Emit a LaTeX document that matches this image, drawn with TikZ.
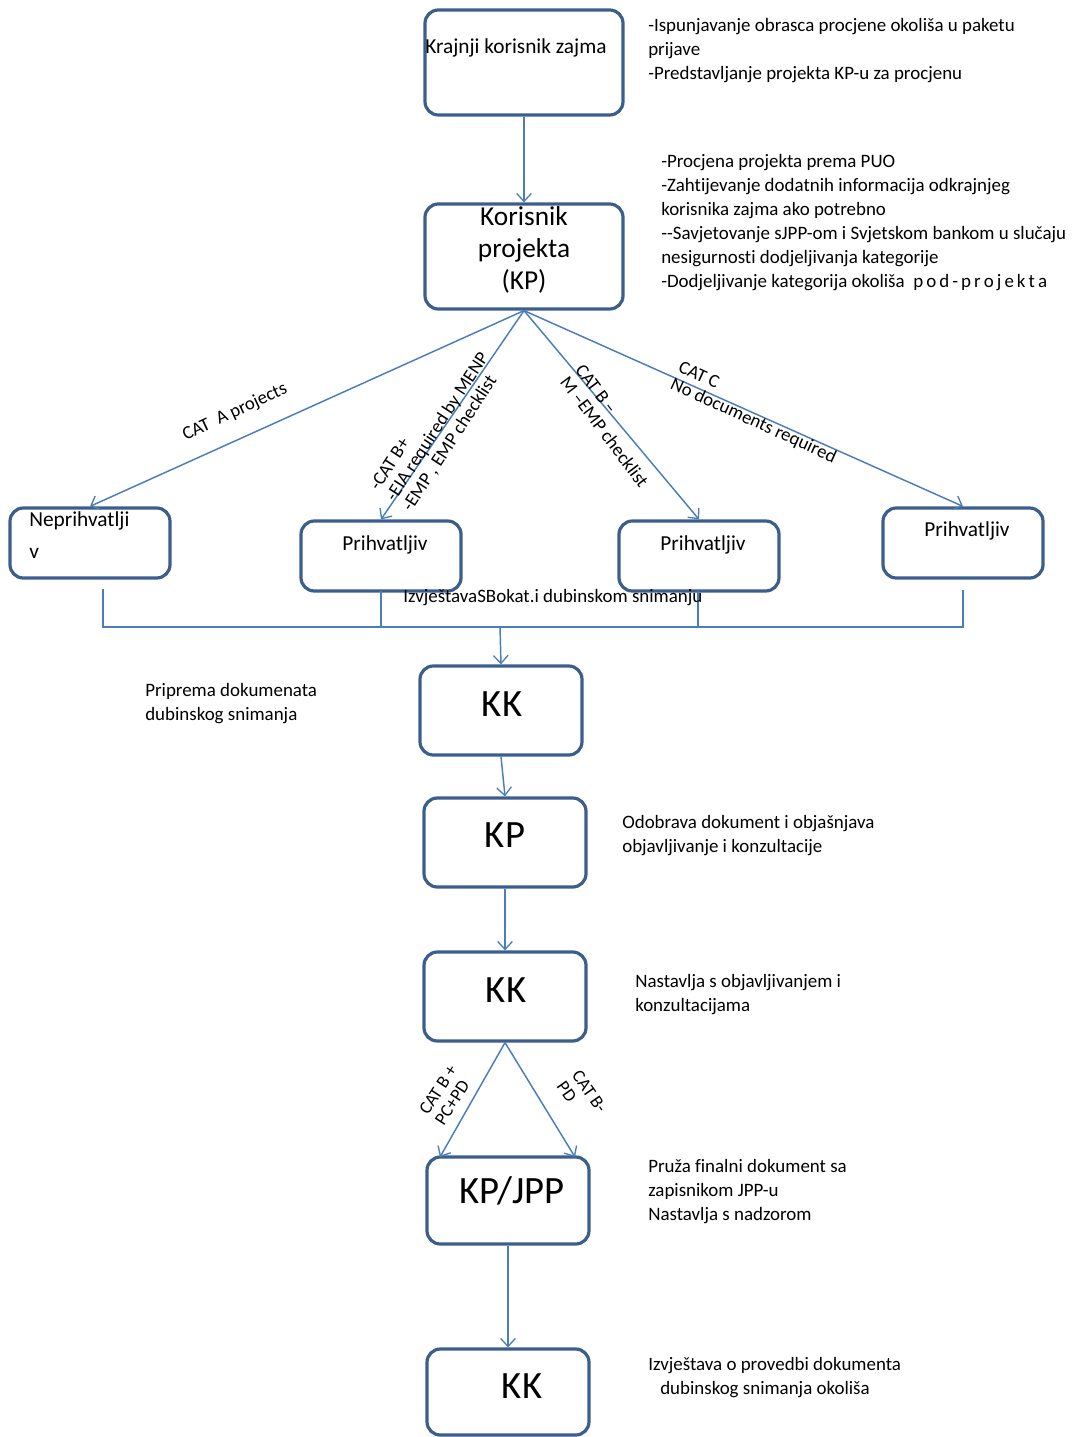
\documentclass[tikz,border=0pt]{standalone}
\usepackage{fontspec}
\setmainfont{Carlito}[Ligatures=NoCommon]
\usetikzlibrary{arrows.meta,calc}
\definecolor{boxblue}{HTML}{3B5E8C}
\definecolor{lineblue}{HTML}{4A7EBB}
\tikzset{
  flowbox/.style={draw=boxblue,line width=2.4pt,rounded corners=10pt,inner sep=0pt},
  conn/.style={draw=lineblue,line width=1.1pt},
  arr/.style={conn,-{Straight Barb[length=6pt,width=11pt,line width=1pt]}},
  side/.style={anchor=north west,inner sep=0pt,align=left,font=\fontsize{14.2pt}{18pt}\selectfont},
  boxtxt/.style={inner sep=0pt,font=\fontsize{16pt}{19pt}\selectfont},
  bigtxt/.style={inner sep=0pt,font=\fontsize{29pt}{32pt}\selectfont},
  lbl/.style={inner sep=0pt,align=left,font=\fontsize{14pt}{14.5pt}\selectfont},
  slbl/.style={inner sep=0pt,align=left,font=\fontsize{13.5pt}{14pt}\selectfont},
}
\begin{document}
\begin{tikzpicture}[x=0.75pt,y=-0.75pt]
\useasboundingbox (0,0) rectangle (1080,1437);
% boxes
\node[flowbox,minimum width=198*0.75pt,minimum height=105*0.75pt] (kz) at (524,62.5) {};
\node[inner sep=0pt,anchor=west,font=\fontsize{16pt}{19pt}\selectfont] (kzt) at (425,48) {Krajnji korisnik zajma};
\node[flowbox,minimum width=198*0.75pt,minimum height=105*0.75pt] (kp1) at (524,256.5) {};
\node[inner sep=0pt,align=center,font=\fontsize{20.5pt}{24pt}\selectfont] (kp1t) at (524,250) {Korisnik\\projekta\\(KP)};

\node[flowbox,minimum width=160*0.75pt,minimum height=70*0.75pt] (nep) at (90,543) {};
\node[boxtxt,anchor=west] (nept1) at (29,521) {Neprihvatlji};
\node[boxtxt,anchor=west] (nept2) at (29,553) {v};
\node[flowbox,minimum width=160*0.75pt,minimum height=70*0.75pt] (pr1) at (381,556) {};
\node[boxtxt] (pr1t) at (385,545) {Prihvatljiv};
\node[flowbox,minimum width=160*0.75pt,minimum height=70*0.75pt] (pr2) at (699,556) {};
\node[boxtxt] (pr2t) at (703,545) {Prihvatljiv};
\node[flowbox,minimum width=160*0.75pt,minimum height=70*0.75pt] (pr3) at (963,543) {};
\node[boxtxt] (pr3t) at (967,531) {Prihvatljiv};

\node[flowbox,minimum width=162*0.75pt,minimum height=89*0.75pt] (kk1) at (501,710.5) {};
\node[bigtxt] (kk1t) at (502,704) {KK};
\node[flowbox,minimum width=162*0.75pt,minimum height=89*0.75pt] (kp2) at (505,842.5) {};
\node[bigtxt] (kp2t) at (505,835) {KP};
\node[flowbox,minimum width=162*0.75pt,minimum height=89*0.75pt] (kk2) at (505,996.5) {};
\node[bigtxt] (kk2t) at (506,990) {KK};
\node[flowbox,minimum width=162*0.75pt,minimum height=87*0.75pt] (jpp) at (508,1200.5) {};
\node[bigtxt] (jppt) at (512,1191) {KP/JPP};
\node[flowbox,minimum width=162*0.75pt,minimum height=86*0.75pt] (kk3) at (508,1392) {};
\node[bigtxt] (kk3t) at (522,1386) {KK};

% connectors
\draw[arr] (kz.south) -- (kp1.north);
\draw[arr] (kp1.south) -- (nep.north);
\draw[arr] (kp1.south) -- (pr1.north);
\draw[arr] (kp1.south) -- (pr2.north);
\draw[arr] (kp1.south) -- (pr3.north);

\coordinate (b0) at (103,589);
\coordinate (b1) at (381,591);
\coordinate (b2) at (698,591);
\coordinate (b3) at (963,590);
\coordinate (bl) at (103,627);
\coordinate (br) at (963,627);
\coordinate (bm) at (500,627);
\draw[conn] (b0) -- (bl) -- (br) -- (b3);
\draw[conn] (b1) -- (b1 |- bl);
\draw[conn] (b2) -- (b2 |- bl);
\draw[arr] (bm) -- (kk1.north);
\draw[arr] (kk1.south) -- (kp2.north);
\draw[arr] (kp2.south) -- (kk2.north);
\coordinate (jl) at (440,1157);
\coordinate (jr) at (575,1157);
\draw[arr] (kk2.south) -- (jl);
\draw[arr] (kk2.south) -- (jr);
\draw[arr] (jpp.south) -- (kk3.north);

% edge labels
\node[lbl,rotate=25] (la) at (235,412) {CAT\ \ A projects};
\node[lbl,rotate=57] (lbp) at (438,427) {-CAT B+\\-EIA required by MENP\\-EMP , EMP checklist};
\node[lbl,rotate=-53] (lbm) at (612,426) {CAT B --\\M --EMP checklist};
\node[lbl,rotate=-24.5] (lc) at (757,413) {CAT C\\No documents required};
\node[slbl,rotate=57] (lb2) at (446,1095) {CAT B +\\PC+PD};
\node[slbl,rotate=-55] (lb3) at (582,1097) {CAT B-\\PD};
\node[side,anchor=west] (izv) at (403,598) {IzvještavaSBokat.i dubinskom snimanju};

% side texts
\node[side] (s1) at (648,18) {-Ispunjavanje obrasca procjene okoliša u paketu\\prijave\\-Predstavljanje projekta KP-u za procjenu};
\node[side] (s2) at (661,154) {-Procjena projekta prema PUO\\-Zahtijevanje dodatnih informacija odkrajnjeg\\korisnika zajma ako potrebno\\-{}-Savjetovanje sJPP-om i Svjetskom bankom u slučaju\\nesigurnosti dodjeljivanja kategorije\\-Dodjeljivanje kategorija okoliša\ \ {\spaceskip=2.3pt p o d - p r o j e k t a}};
\node[side] (s3) at (145,683) {Priprema dokumenata\\dubinskog snimanja};
\node[side] (s4) at (622,815) {Odobrava dokument i objašnjava\\objavljivanje i konzultacije};
\node[side] (s5) at (635,974) {Nastavlja s objavljivanjem i\\konzultacijama};
\node[side] (s6) at (648,1159) {Pruža finalni dokument sa\\zapisnikom JPP-u\\Nastavlja s nadzorom};
\node[side] (s7) at (648,1357) {Izvještava o provedbi dokumenta\\\hspace*{9pt}dubinskog snimanja okoliša};
\end{tikzpicture}
\end{document}
